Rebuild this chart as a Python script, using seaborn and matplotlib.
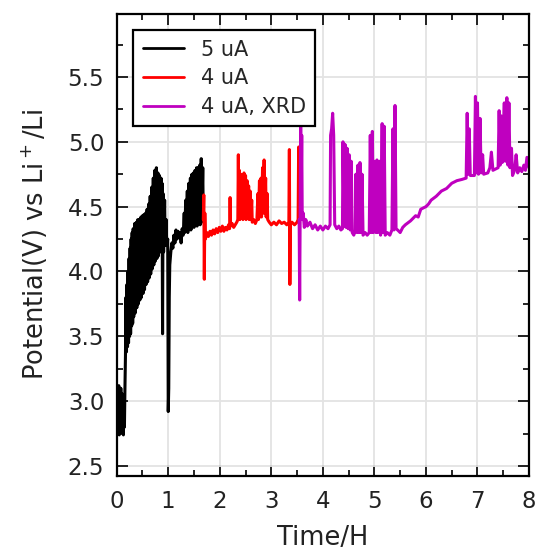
import matplotlib
matplotlib.use("Agg")
import matplotlib.pyplot as plt
import seaborn as sns
import pandas as pd
from matplotlib.ticker import MultipleLocator

# ---------------- data ----------------
black_t = [0.00, 0.01, 0.02, 0.03, 0.04, 0.05, 0.06, 0.07, 0.08, 0.09, 0.10, 0.11, 0.12, 0.13, 0.14, 0.15, 0.16,
           0.17, 0.18, 0.19, 0.20, 0.21, 0.22, 0.23, 0.24, 0.25, 0.26, 0.27, 0.28, 0.29, 0.30, 0.31, 0.32, 0.33,
           0.35, 0.36, 0.38, 0.39, 0.41, 0.42, 0.44, 0.45, 0.47, 0.48, 0.50, 0.51, 0.53, 0.54, 0.56, 0.57, 0.59,
           0.60, 0.62, 0.63, 0.65, 0.66, 0.68, 0.69, 0.71, 0.72, 0.74, 0.75, 0.77, 0.78, 0.80, 0.81, 0.83, 0.84,
           0.86, 0.87, 0.88, 0.89, 0.90, 0.91, 0.93, 0.94, 0.96, 0.97, 0.99, 1.00, 1.01, 1.02, 1.03, 1.05, 1.07,
           1.09, 1.11, 1.13, 1.15, 1.17, 1.19, 1.21, 1.23, 1.25, 1.27, 1.29, 1.31, 1.32, 1.34, 1.35, 1.37, 1.38,
           1.40, 1.41, 1.43, 1.44, 1.46, 1.47, 1.49, 1.50, 1.52, 1.53, 1.55, 1.56, 1.58, 1.59, 1.61, 1.62, 1.64,
           1.65, 1.67, 1.68]
black_v = [3.05, 2.78, 3.10, 2.75, 3.12, 2.74, 3.08, 2.80, 3.10, 2.76, 3.06, 2.78, 3.04, 2.74, 3.00, 2.80, 3.10,
           3.35, 3.80, 3.38, 3.90, 3.42, 4.00, 3.45, 4.10, 3.50, 4.18, 3.52, 4.25, 3.58, 4.30, 3.60, 4.33, 3.65,
           4.37, 3.68, 4.38, 3.72, 4.40, 3.75, 4.40, 3.78, 4.42, 3.80, 4.43, 3.83, 4.44, 3.86, 4.45, 3.90, 4.48,
           3.92, 4.52, 3.95, 4.58, 3.98, 4.65, 4.02, 4.72, 4.05, 4.78, 4.08, 4.80, 4.10, 4.76, 4.12, 4.74, 4.15,
           4.72, 4.18, 4.68, 3.52, 4.60, 4.15, 4.55, 4.20, 4.40, 4.20, 4.25, 2.92, 3.10, 3.80, 4.05, 4.15, 4.22,
           4.18, 4.28, 4.22, 4.32, 4.25, 4.31, 4.26, 4.30, 4.22, 4.33, 4.28, 4.45, 4.30, 4.55, 4.32, 4.62, 4.30,
           4.68, 4.33, 4.72, 4.32, 4.75, 4.35, 4.76, 4.34, 4.78, 4.36, 4.80, 4.35, 4.80, 4.38, 4.82, 4.36, 4.87,
           4.38, 4.80, 4.40]

red_t = [1.68, 1.69, 1.70, 1.71, 1.72, 1.75, 1.78, 1.81, 1.84, 1.87, 1.90, 1.93, 1.96, 1.99, 2.02, 2.05, 2.08,
         2.11, 2.14, 2.17, 2.19, 2.20, 2.21, 2.24, 2.27, 2.30, 2.33, 2.35, 2.36, 2.37, 2.38, 2.39, 2.41, 2.42,
         2.44, 2.45, 2.47, 2.48, 2.50, 2.51, 2.53, 2.54, 2.56, 2.57, 2.59, 2.60, 2.62, 2.63, 2.66, 2.69, 2.72,
         2.74, 2.75, 2.77, 2.78, 2.80, 2.81, 2.83, 2.84, 2.86, 2.87, 2.89, 2.90, 2.92, 2.93, 2.96, 3.00, 3.05,
         3.10, 3.15, 3.20, 3.25, 3.30, 3.34, 3.35, 3.36, 3.37, 3.40, 3.45, 3.50, 3.52, 3.53, 3.54]
red_v = [4.40, 4.59, 3.94, 4.45, 4.25, 4.30, 4.27, 4.31, 4.28, 4.32, 4.29, 4.33, 4.30, 4.34, 4.31, 4.35, 4.31,
         4.34, 4.32, 4.36, 4.33, 4.57, 4.35, 4.37, 4.34, 4.36, 4.38, 4.40, 4.90, 4.40, 4.78, 4.40, 4.75, 4.42,
         4.72, 4.40, 4.76, 4.42, 4.74, 4.40, 4.70, 4.42, 4.66, 4.40, 4.62, 4.40, 4.55, 4.38, 4.40, 4.37, 4.40,
         4.60, 4.40, 4.70, 4.42, 4.72, 4.42, 4.80, 4.45, 4.86, 4.45, 4.72, 4.42, 4.60, 4.40, 4.38, 4.36, 4.38,
         4.36, 4.39, 4.37, 4.38, 4.36, 4.38, 4.94, 3.90, 4.36, 4.38, 4.36, 4.38, 4.40, 4.96, 4.40]

xrd_t = [3.54, 3.55, 3.56, 3.57, 3.58, 3.59, 3.60, 3.62, 3.64, 3.67, 3.70, 3.75, 3.80, 3.85, 3.90, 3.95, 4.00,
         4.05, 4.10, 4.14, 4.15, 4.17, 4.19, 4.21, 4.23, 4.27, 4.31, 4.35, 4.38, 4.39, 4.41, 4.43, 4.45, 4.47,
         4.49, 4.51, 4.53, 4.55, 4.57, 4.60, 4.63, 4.64, 4.66, 4.68, 4.70, 4.72, 4.74, 4.76, 4.78, 4.82, 4.86,
         4.90, 4.92, 4.94, 4.96, 4.98, 5.01, 5.03, 5.05, 5.07, 5.10, 5.12, 5.15, 5.17, 5.19, 5.21, 5.25, 5.30,
         5.34, 5.36, 5.38, 5.40, 5.42, 5.45, 5.50, 5.55, 5.60, 5.70, 5.80, 5.85, 5.90, 6.00, 6.05, 6.10, 6.20,
         6.30, 6.40, 6.50, 6.60, 6.70, 6.78, 6.80, 6.82, 6.84, 6.86, 6.94, 6.96, 6.98, 7.00, 7.02, 7.05, 7.07,
         7.10, 7.12, 7.20, 7.24, 7.27, 7.30, 7.35, 7.40, 7.42, 7.44, 7.46, 7.48, 7.52, 7.54, 7.57, 7.59, 7.61,
         7.63, 7.66, 7.68, 7.72, 7.75, 7.78, 7.82, 7.86, 7.90, 7.93, 7.96, 8.00]
xrd_v = [4.40, 3.78, 4.45, 5.15, 4.60, 5.05, 4.40, 4.45, 4.34, 4.40, 4.35, 4.38, 4.33, 4.36, 4.32, 4.35, 4.32,
         4.35, 4.33, 4.36, 5.05, 5.10, 5.22, 5.05, 4.36, 4.33, 4.35, 4.32, 4.33, 5.00, 4.35, 4.98, 4.34, 4.95,
         4.33, 4.90, 4.32, 4.85, 4.30, 4.28, 4.32, 4.75, 4.30, 4.82, 4.30, 4.84, 4.30, 4.75, 4.28, 4.30, 4.28,
         4.30, 5.05, 4.30, 5.08, 4.30, 4.85, 4.30, 4.86, 4.30, 4.85, 4.28, 5.14, 4.30, 5.12, 4.28, 4.30, 4.28,
         4.32, 5.10, 4.32, 5.28, 4.33, 4.32, 4.30, 4.34, 4.36, 4.39, 4.43, 4.42, 4.48, 4.50, 4.52, 4.55, 4.58,
         4.62, 4.64, 4.68, 4.70, 4.71, 4.72, 5.22, 4.75, 5.10, 4.74, 4.74, 5.35, 4.76, 5.30, 4.75, 5.18, 4.76,
         4.90, 4.75, 4.76, 4.80, 4.92, 4.78, 4.79, 4.80, 5.24, 4.82, 5.20, 4.84, 5.30, 4.85, 5.34, 4.82, 5.30,
         4.80, 4.95, 4.74, 4.78, 4.90, 4.76, 4.80, 4.77, 4.82, 4.78, 4.88, 4.80]

series_names = ["5 uA", "4 uA", "4 uA, XRD"]
series_colors = ["black", "red", (0.75, 0.0, 0.75)]
x_ticks = [0, 1, 2, 3, 4, 5, 6, 7, 8]
y_ticks = [2.5, 3.0, 3.5, 4.0, 4.5, 5.0, 5.5]
y_tick_labels = ["2.5", "3.0", "3.5", "4.0", "4.5", "5.0", "5.5"]

# ---------------- build frame ----------------
frames = []
for name, t, v in zip(series_names, [black_t, red_t, xrd_t], [black_v, red_v, xrd_v]):
    frames.append(pd.DataFrame({"time": t, "potential": v, "series": name}))
df = pd.concat(frames, ignore_index=True)

# ---------------- style ----------------
sns.set_style("ticks")
plt.rcParams["font.family"] = ["DejaVu Sans"]
plt.rcParams["xtick.direction"] = "in"
plt.rcParams["ytick.direction"] = "in"

fig = plt.figure(figsize=(5.39, 5.5), dpi=100)
ax = fig.add_axes([0.2165, 0.1345, 0.765, 0.840])

sns.lineplot(data=df, x="time", y="potential", hue="series", hue_order=series_names,
             palette=dict(zip(series_names, series_colors)), estimator=None, sort=False,
             linewidth=2.2, ax=ax)

ax.set_xlim(0, 8)
ax.set_ylim(2.423, 5.985)
ax.set_xticks(x_ticks)
ax.set_yticks(y_ticks)
ax.set_yticklabels(y_tick_labels)
ax.xaxis.set_minor_locator(MultipleLocator(0.5))
ax.yaxis.set_minor_locator(MultipleLocator(0.25))
ax.tick_params(which="both", direction="in", top=True, right=True, colors="black",
               labelsize=16.5, width=1.2, labelcolor="#222222")
ax.tick_params(which="major", length=8)
ax.tick_params(which="minor", length=4)
ax.tick_params(axis="x", which="major", pad=10)
ax.tick_params(axis="y", which="major", pad=9)
for s in ax.spines.values():
    s.set_color("black")
    s.set_linewidth(1.6)
ax.grid(True, which="major", color="#e3e3e3", linewidth=1.3)
ax.set_axisbelow(True)

ax.set_xlabel("Time/H", fontsize=18.5, color="#222222", labelpad=9)
ax.set_ylabel("Potential(V) vs Li$^+$/Li", fontsize=18.5, color="#222222", labelpad=13)

leg = ax.legend(loc="upper left", bbox_to_anchor=(0.04, 0.965), borderaxespad=0,
                fontsize=15, frameon=True, fancybox=False, framealpha=1,
                edgecolor="black", handlelength=2.0, borderpad=0.45, labelspacing=0.42)
leg.get_frame().set_linewidth(1.6)
for line in leg.get_lines():
    line.set_linewidth(2.0)

fig.savefig("out.png", dpi=100)
